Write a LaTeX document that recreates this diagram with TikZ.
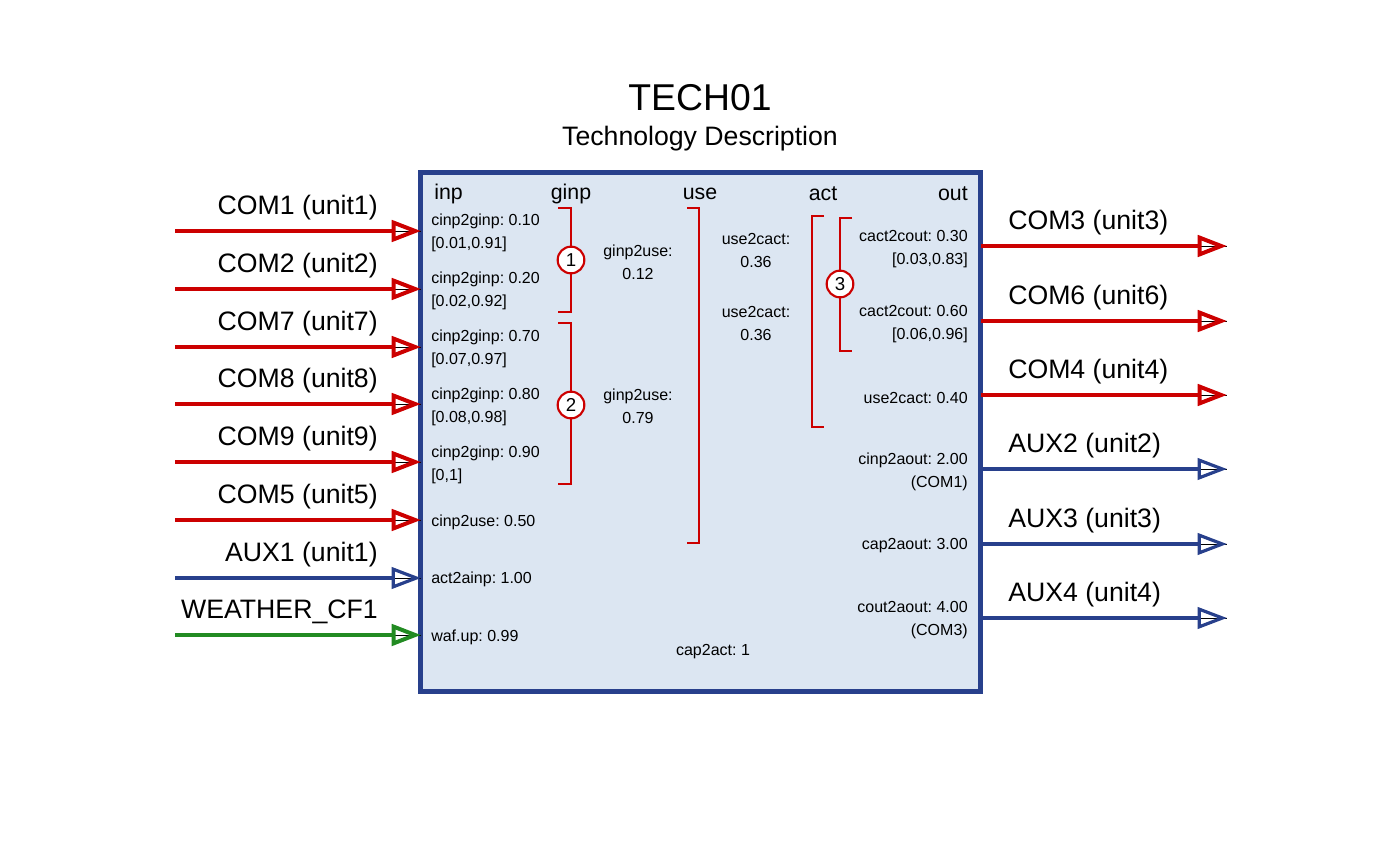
\documentclass[tikz,border=0pt]{standalone}
\usepackage{fontspec}
\setmainfont{Liberation Sans}
\usetikzlibrary{arrows.meta}
\definecolor{myred}{RGB}{204,0,0}
\definecolor{myblue}{RGB}{40,64,140}
\definecolor{myfill}{RGB}{220,230,242}
\definecolor{mygreen}{RGB}{34,139,34}
\frenchspacing
\begin{document}
\begin{tikzpicture}[x=0.75pt,y=-0.75pt,
  small/.style={font=\fontsize{12}{17.25}\selectfont, inner sep=0pt},
  lbl/.style={font=\fontsize{20}{24}\selectfont, inner sep=0pt},
  hdr/.style={font=\fontsize{16}{19}\selectfont, inner sep=0pt},
  flow/.style={line width=3pt, -{Triangle[open,length=22pt,width=16pt]}, preaction={draw,-}},
  redflow/.style={flow, draw=myred},
  blueflow/.style={flow, draw=myblue, line width=2.4pt},
  greenflow/.style={flow, draw=mygreen},
  brk/.style={draw=myred, line width=2pt},
  num/.style={circle, draw=myred, fill=white, line width=1.6pt, minimum size=20pt, inner sep=0pt, font=\fontsize{14}{16}\selectfont},
  techbox/.style={draw=myblue, fill=myfill, line width=3.75pt, minimum width=420pt, minimum height=388.5pt, inner sep=0pt}
]
\useasboundingbox (0,0) rectangle (1400,866);
% title
\node[font=\fontsize{28}{32}\selectfont, inner sep=0pt] (title) at (700,98) {TECH01};
\node[lbl] (subtitle) at (700,139) {Technology Description};
% box
\node[techbox] (box) at (700,432) {};
% headers
\node[hdr, anchor=west] (hinp) at (434,194) {inp};
\node[hdr] (hginp) at (571,194) {ginp};
\node[hdr] (huse) at (700,194) {use};
\node[hdr] (hact) at (823,194) {act};
\node[hdr, anchor=east] (hout) at (968,194) {out};
% brackets
\draw[brk] (558,208) -- (571,208) -- (571,312) -- (558,312);
\node[num] (c1) at (571,260) {1};
\draw[brk] (558,323) -- (571,323) -- (571,484) -- (558,484);
\node[num] (c2) at (571,405) {2};
\draw[brk] (687,208) -- (699,208) -- (699,543) -- (687,543);
\draw[brk] (824,216) -- (812,216) -- (812,427) -- (824,427);
\draw[brk] (852,218) -- (840,218) -- (840,351) -- (852,351);
\node[num] (c3) at (840,284) {3};
% left texts
\node[small, anchor=west, align=left] (t1) at (431,232.5) {cinp2ginp: 0.10\\{}[0.01,0.91]};
\node[small, anchor=west, align=left] (t2) at (431,290.5) {cinp2ginp: 0.20\\{}[0.02,0.92]};
\node[small, anchor=west, align=left] (t7) at (431,348.5) {cinp2ginp: 0.70\\{}[0.07,0.97]};
\node[small, anchor=west, align=left] (t8) at (431,406.5) {cinp2ginp: 0.80\\{}[0.08,0.98]};
\node[small, anchor=west, align=left] (t9) at (431,464.5) {cinp2ginp: 0.90\\{}[0,1]};
\node[small, anchor=west] (t5) at (431,522) {cinp2use: 0.50};
\node[small, anchor=west] (ta1) at (431,579) {act2ainp: 1.00};
\node[small, anchor=west] (tw) at (431,637) {waf.up: 0.99};
% middle texts
\node[small, align=center] (g1) at (638,262) {ginp2use:\\0.12};
\node[small, align=center] (g2) at (638,406.5) {ginp2use:\\0.79};
\node[small, align=center] (u1) at (756,250) {use2cact:\\0.36};
\node[small, align=center] (u2) at (756,323.5) {use2cact:\\0.36};
\node[small] (cap) at (713,652) {cap2act: 1};
% right texts
\node[small, anchor=east, align=right] (r3) at (968,249.5) {cact2cout: 0.30\\{}[0.03,0.83]};
\node[small, anchor=east, align=right] (r6) at (968,324) {cact2cout: 0.60\\{}[0.06,0.96]};
\node[small, anchor=east] (r4) at (968,398) {use2cact: 0.40};
\node[small, anchor=east, align=right] (ra2) at (968,472) {cinp2aout: 2.00\\(COM1)};
\node[small, anchor=east] (ra3) at (968,546) {cap2aout: 3.00};
\node[small, anchor=east, align=right] (ra4) at (968,620.5) {cout2aout: 4.00\\(COM3)};
% input flows
\foreach \nm/\txt/\y/\st in {i1/COM1 (unit1)/231/redflow, i2/COM2 (unit2)/289/redflow, i7/COM7 (unit7)/347/redflow, i8/COM8 (unit8)/404/redflow, i9/COM9 (unit9)/462/redflow, i5/COM5 (unit5)/520/redflow, ia1/AUX1 (unit1)/578/blueflow, iw/WEATHER\_CF1/635/greenflow}{
  \coordinate (\nm s) at (175,\y);
  \coordinate (\nm e) at (421,\y);
  \node[lbl, anchor=east] (\nm l) at (378,\y-23) {\txt};
  \draw[\st] (\nm s) -- (\nm e);
}
% output flows
\foreach \nm/\txt/\y/\st in {o3/COM3 (unit3)/246/redflow, o6/COM6 (unit6)/321/redflow, o4/COM4 (unit4)/395/redflow, oa2/AUX2 (unit2)/469/blueflow, oa3/AUX3 (unit3)/544/blueflow, oa4/AUX4 (unit4)/618/blueflow}{
  \coordinate (\nm s) at (981,\y);
  \coordinate (\nm e) at (1227,\y);
  \node[lbl, anchor=west] (\nm l) at (1008,\y-23) {\txt};
  \draw[\st] (\nm s) -- (\nm e);
}
\end{tikzpicture}
\end{document}
